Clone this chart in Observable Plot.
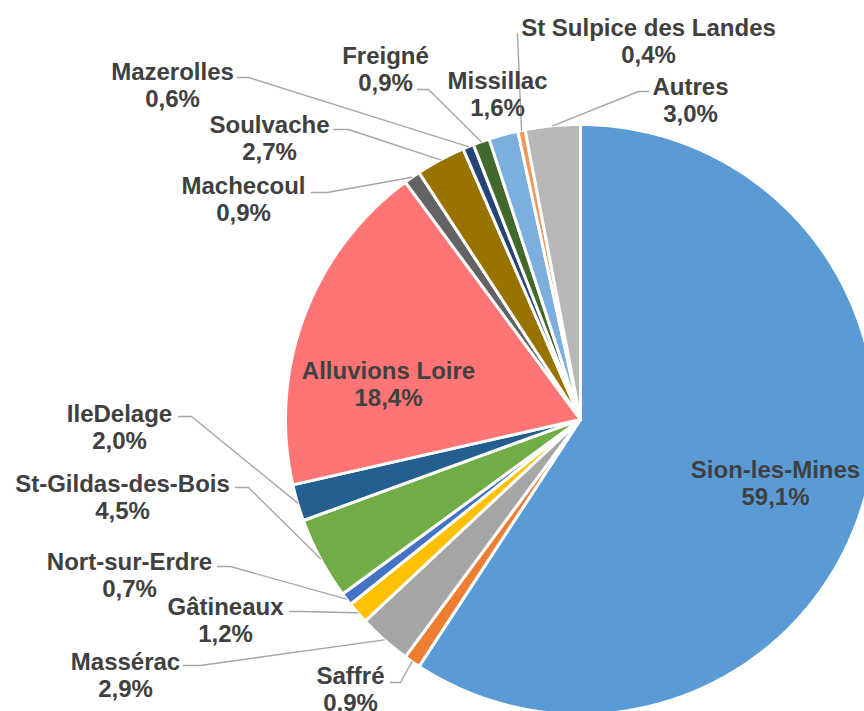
<!DOCTYPE html>
<html>
<head>
<meta charset="utf-8">
<script src="https://cdn.jsdelivr.net/npm/d3@7"></script>
<script src="https://cdn.jsdelivr.net/npm/@observablehq/plot@0.6"></script>
<style>
  html, body { margin: 0; padding: 0; background: #fff; overflow: hidden; }
  #chart svg { display: block; overflow: hidden; }
</style>
</head>
<body>
<div id="chart"></div>
<script>
// Share of each source, clockwise from 12 o'clock
const categories = [
  "Sion-les-Mines", "Saffré", "Massérac", "Gâtineaux", "Nort-sur-Erdre",
  "St-Gildas-des-Bois", "IleDelage", "Alluvions Loire", "Machecoul", "Soulvache",
  "Mazerolles", "Freigné", "Missillac", "St Sulpice des Landes", "Autres"
];
const shares = [59.1, 0.9, 2.9, 1.2, 0.7, 4.5, 2.0, 18.4, 0.9, 2.7, 0.6, 0.9, 1.6, 0.4, 3.0];

// Slice colours, same order as the categories
const palette = [
  "#5B9BD5", "#ED7D31", "#A5A5A5", "#FFC000", "#4472C4",
  "#70AD47", "#255E91", "#FF7575", "#636363", "#997300",
  "#264478", "#43682B", "#7CAFDD", "#F1975A", "#B7B7B7"
];

// Page geometry: pie centre and radius in pixels
const W = 864, H = 711, CX = 580, CY = 419, R = 295;

// Label centres, in pixels from the pie centre
const labelOffset = {
  "Sion-les-Mines": [195, 63],
  "Saffré": [-230, 269],
  "Massérac": [-455, 255],
  "Gâtineaux": [-355, 200],
  "Nort-sur-Erdre": [-451, 155],
  "St-Gildas-des-Bois": [-458, 77],
  "IleDelage": [-461, 7],
  "Alluvions Loire": [-192, -36],
  "Machecoul": [-337, -221],
  "Soulvache": [-311, -282],
  "Mazerolles": [-408, -335],
  "Freigné": [-195, -351],
  "Missillac": [-83, -326],
  "St Sulpice des Landes": [68, -379],
  "Autres": [110, -320]
};

// Leader lines: start at the label, bend once, then run to the slice edge
const leaderBend = {
  "Saffré": [[-190, 263], [-180, 263]],
  "Massérac": [[-397, 246], [-380, 246]],
  "Gâtineaux": [[-291, 192], [-281, 192]],
  "Nort-sur-Erdre": [[-363, 147], [-350, 147]],
  "St-Gildas-des-Bois": [[-345, 68], [-332, 68]],
  "IleDelage": [[-402, -3], [-389, -3]],
  "Machecoul": [[-269, -227], [-253, -227]],
  "Soulvache": [[-247, -290], [-232, -290]],
  "Mazerolles": [[-343, -342], [-332, -342]],
  "Freigné": [[-163, -330], [-152, -330]],
  "St Sulpice des Landes": [[-63, -386], [-63, -386]],
  "Autres": [[68, -328], [58, -328]]
};

const fmt = (v) => v.toFixed(1).replace(".", ",") + "%";

// Angles from d3.pie, measured clockwise from the top
const arcs = d3.pie().sort(null).value((d) => d)(shares);

// Slice outlines in radius units (y grows downward)
const slices = [];
arcs.forEach((a, i) => {
  const name = categories[i];
  const n = Math.max(2, Math.ceil((a.endAngle - a.startAngle) / (Math.PI / 360)) + 1);
  slices.push({name, x: 0, y: 0});
  for (let k = 0; k < n; ++k) {
    const t = a.startAngle + (a.endAngle - a.startAngle) * k / (n - 1);
    slices.push({name, x: Math.sin(t), y: -Math.cos(t)});
  }
  slices.push({name, x: 0, y: 0});
});

const leaders = [];
arcs.forEach((a, i) => {
  const name = categories[i];
  const bend = leaderBend[name];
  if (!bend) return;
  const mid = (a.startAngle + a.endAngle) / 2;
  leaders.push({name, x: bend[0][0] / R, y: bend[0][1] / R});
  leaders.push({name, x: bend[1][0] / R, y: bend[1][1] / R});
  leaders.push({name, x: Math.sin(mid), y: -Math.cos(mid)});
});

const labels = categories.map((name, i) => ({
  name,
  x: labelOffset[name][0] / R,
  y: labelOffset[name][1] / R,
  text: name + "\n" + fmt(shares[i])
}));

const chart = Plot.plot({
  width: W,
  height: H,
  margin: 0,
  x: {domain: [-CX / R, (W - CX) / R], range: [0, W], axis: null},
  y: {domain: [-CY / R, (H - CY) / R], range: [0, H], axis: null},
  color: {domain: categories, range: palette},
  style: {background: "#fff", overflow: "hidden"},
  marks: [
    Plot.line(slices, {
      x: "x", y: "y", z: "name", fill: "name",
      stroke: "#fff", strokeWidth: 3, strokeLinejoin: "round"
    }),
    Plot.line(leaders, {
      x: "x", y: "y", z: "name",
      stroke: "#A6A6A6", strokeWidth: 1.4
    }),
    Plot.text(labels, {
      x: "x", y: "y", text: "text",
      fill: "#404040", fontSize: 24, fontWeight: "bold",
      fontFamily: "Arial, 'Liberation Sans', sans-serif",
      lineHeight: 1.14
    })
  ]
});

document.getElementById("chart").appendChild(chart);
</script>
</body>
</html>
